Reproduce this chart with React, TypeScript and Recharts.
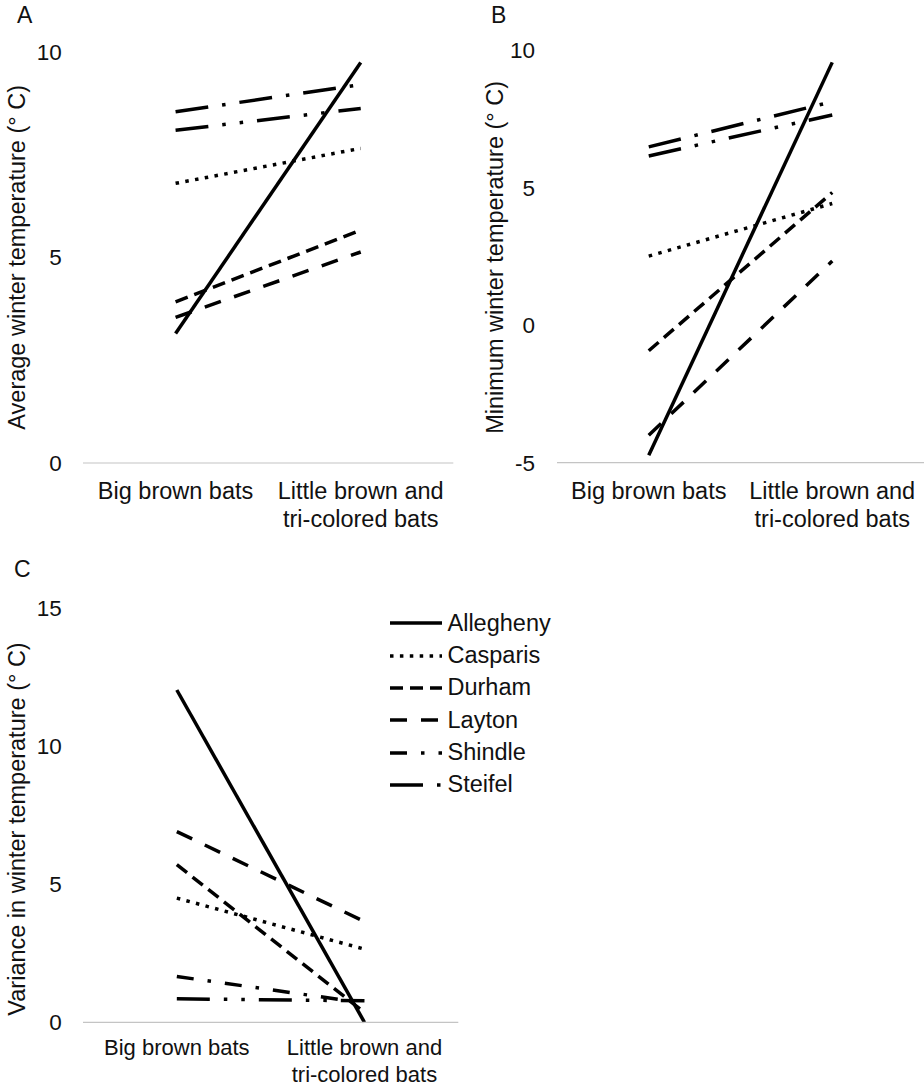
import React from 'react';
import { LineChart, Line, XAxis, YAxis, Legend } from 'recharts';

const FONT = '"Liberation Sans", Arial, Helvetica, sans-serif';
const INK = '#111111';
const AXIS_GRAY = '#c4c4c4';
const LINE_W = 3.5;

// ---- data ----
const categories = ['Big brown bats', 'Little brown and tri-colored bats'];
const sites = ['Allegheny', 'Casparis', 'Durham', 'Layton', 'Shindle', 'Steifel'];

// Panel A: average winter temperature (°C)
const avgBigBrown = [3.15, 6.8, 3.92, 3.54, 8.54, 8.09];
const avgLittleTri = [9.74, 7.65, 5.66, 5.13, 9.2, 8.62];
// Panel B: minimum winter temperature (°C)
const minBigBrown = [-4.73, 2.51, -0.93, -4.0, 6.48, 6.15];
const minLittleTri = [9.55, 4.42, 4.82, 2.33, 8.12, 7.64];
// Panel C: variance in winter temperature (°C)
const varBigBrown = [12.04, 4.5, 5.71, 6.91, 1.66, 0.85];
const varLittleTri = [0.0, 2.65, 0.36, 3.65, 0.7, 0.78];

const avgTicks = [0, 5, 10];
const minTicks = [-5, 0, 5, 10];
const varTicks = [0, 5, 10, 15];

const panelLetters = ['A', 'B', 'C'];
const yTitles = [
  'Average winter temperature (° C)',
  'Minimum winter temperature (° C)',
  'Variance in winter temperature (° C)',
];

// line styles
const dashAB: Record<string, string | undefined> = {
  Allegheny: undefined,
  Casparis: '3.5 6.4',
  Durham: '13 7',
  Layton: '17 14',
  Shindle: '33 14 3.5 14',
  Steifel: '33 14 3.5 14 3.5 14',
};
const dashC: Record<string, string | undefined> = { ...dashAB, Shindle: '17 14 3.5 14' };

function buildRows(big: number[], little: number[]) {
  return categories.map((cat, i) => {
    const vals = i === 0 ? big : little;
    const row: Record<string, any> = { category: cat };
    sites.forEach((s, j) => {
      row[s] = vals[j];
    });
    return row;
  });
}

const avgRows = buildRows(avgBigBrown, avgLittleTri);
const minRows = buildRows(minBigBrown, minLittleTri);
const varRows = buildRows(varBigBrown, varLittleTri);

function XTick(props: any) {
  const { x, y, payload, fontSize, firstDy, lineGap } = props;
  const text: string = String(payload.value);
  const idx = text.indexOf(' and ');
  const lines = idx >= 0 ? [text.slice(0, idx + 4), text.slice(idx + 5)] : [text];
  return (
    <text x={x} y={y} textAnchor="middle" fill={INK} fontSize={fontSize} fontFamily={FONT}>
      {lines.map((l, i) => (
        <tspan key={i} x={x} dy={i === 0 ? firstDy : lineGap}>
          {l}
        </tspan>
      ))}
    </text>
  );
}

function makeYLabel(text: string, cxOffset: number, shift: number, size: number) {
  return (props: any) => {
    const vb = props.viewBox || {};
    const x = (vb.x ?? 0) + cxOffset;
    const y = (vb.y ?? 0) + (vb.height ?? 0) / 2 + shift;
    return (
      <text
        x={x}
        y={y}
        dy="0.355em"
        transform={`rotate(-90 ${x} ${y})`}
        textAnchor="middle"
        fill={INK}
        fontSize={size}
        fontFamily={FONT}
      >
        {text}
      </text>
    );
  };
}

function LegendContent(props: any) {
  const payload = props.payload || [];
  return (
    <div style={{ fontFamily: FONT, fontSize: 23.5, color: INK }}>
      {payload.map((entry: any) => {
        const name = String(entry.value);
        const dash = entry.payload?.strokeDasharray ?? dashC[name];
        return (
          <div key={name} style={{ display: 'flex', alignItems: 'center', height: 32.4 }}>
            <svg width={52} height={8} style={{ display: 'block' }}>
              <line x1={0} y1={4} x2={52} y2={4} stroke="#000" strokeWidth={LINE_W} strokeDasharray={dash} />
            </svg>
            <span style={{ marginLeft: 6, lineHeight: 1, whiteSpace: 'nowrap' }}>{name}</span>
          </div>
        );
      })}
    </div>
  );
}

type PanelProps = {
  left: number;
  top: number;
  width: number;
  height: number;
  margin: { top: number; right: number; bottom: number; left: number };
  yWidth: number;
  yTickMargin: number;
  data: any[];
  domain: [number, number];
  ticks: number[];
  title: string;
  labelCx: number;
  labelShift: number;
  dashes: Record<string, string | undefined>;
  xFont: number;
  firstDy: number;
  lineGap: number;
  withLegend?: boolean;
};

function Panel(p: PanelProps) {
  return (
    <div style={{ position: 'absolute', left: p.left, top: p.top, width: p.width, height: p.height }}>
      <LineChart width={p.width} height={p.height} data={p.data} margin={p.margin}>
        <XAxis
          dataKey="category"
          type="category"
          scale="band"
          height={60}
          axisLine={{ stroke: AXIS_GRAY, strokeWidth: 1.2 }}
          tickLine={false}
          tickSize={0}
          tickMargin={0}
          interval={0}
          tick={(tp: any) => <XTick {...tp} fontSize={p.xFont} firstDy={p.firstDy} lineGap={p.lineGap} />}
        />
        <YAxis
          type="number"
          domain={p.domain}
          ticks={p.ticks}
          width={p.yWidth}
          axisLine={false}
          tickLine={false}
          tickSize={0}
          tickMargin={p.yTickMargin}
          interval={0}
          tick={{ fill: INK, fontSize: 22.5, fontFamily: FONT }}
          label={makeYLabel(p.title, p.labelCx, p.labelShift, 23.5)}
        />
        {sites.map((s) => (
          <Line
            key={s}
            dataKey={s}
            name={s}
            type="linear"
            stroke="#000000"
            strokeWidth={LINE_W}
            strokeDasharray={p.dashes[s]}
            dot={false}
            activeDot={false}
            isAnimationActive={false}
          />
        ))}
        {p.withLegend ? (
          <Legend
            layout="vertical"
            align="center"
            verticalAlign="middle"
            wrapperStyle={{ left: 389.5, top: 67.1, width: 260 }}
            content={<LegendContent />}
          />
        ) : null}
      </LineChart>
    </div>
  );
}

const letterStyle: React.CSSProperties = {
  position: 'absolute',
  fontFamily: FONT,
  fontSize: 23,
  lineHeight: '23px',
  color: INK,
};

export default function App() {
  return (
    <div style={{ position: 'absolute', left: 0, top: 0, width: 924, height: 1086, background: '#fff', overflow: 'hidden' }}>
      <div style={{ ...letterStyle, left: 17, top: 4.3 }}>{panelLetters[0]}</div>
      <div style={{ ...letterStyle, left: 491, top: 4.3 }}>{panelLetters[1]}</div>
      <div style={{ ...letterStyle, left: 14, top: 558.4 }}>{panelLetters[2]}</div>

      <Panel
        left={0}
        top={0}
        width={460}
        height={540}
        margin={{ top: 51.7, right: 6.7, bottom: 17, left: 0 }}
        yWidth={83}
        yTickMargin={21.3}
        data={avgRows}
        domain={[0, 10]}
        ticks={avgTicks}
        title={yTitles[0]}
        labelCx={16.7}
        labelShift={0}
        dashes={dashAB}
        xFont={23.5}
        firstDy={36}
        lineGap={28}
      />
      <Panel
        left={460}
        top={0}
        width={464}
        height={540}
        margin={{ top: 50, right: 0, bottom: 17.3, left: 0 }}
        yWidth={97}
        yTickMargin={22}
        data={minRows}
        domain={[-5, 10]}
        ticks={minTicks}
        title={yTitles[1]}
        labelCx={34.7}
        labelShift={1}
        dashes={dashAB}
        xFont={23.5}
        firstDy={36}
        lineGap={28}
      />
      <Panel
        left={0}
        top={540}
        width={924}
        height={546}
        margin={{ top: 68.3, right: 465.7, bottom: 3.7, left: 0 }}
        yWidth={83}
        yTickMargin={21.3}
        data={varRows}
        domain={[0, 15]}
        ticks={varTicks}
        title={yTitles[2]}
        labelCx={16.7}
        labelShift={13.7}
        dashes={dashC}
        xFont={22}
        firstDy={33}
        lineGap={26.7}
        withLegend
      />
    </div>
  );
}
